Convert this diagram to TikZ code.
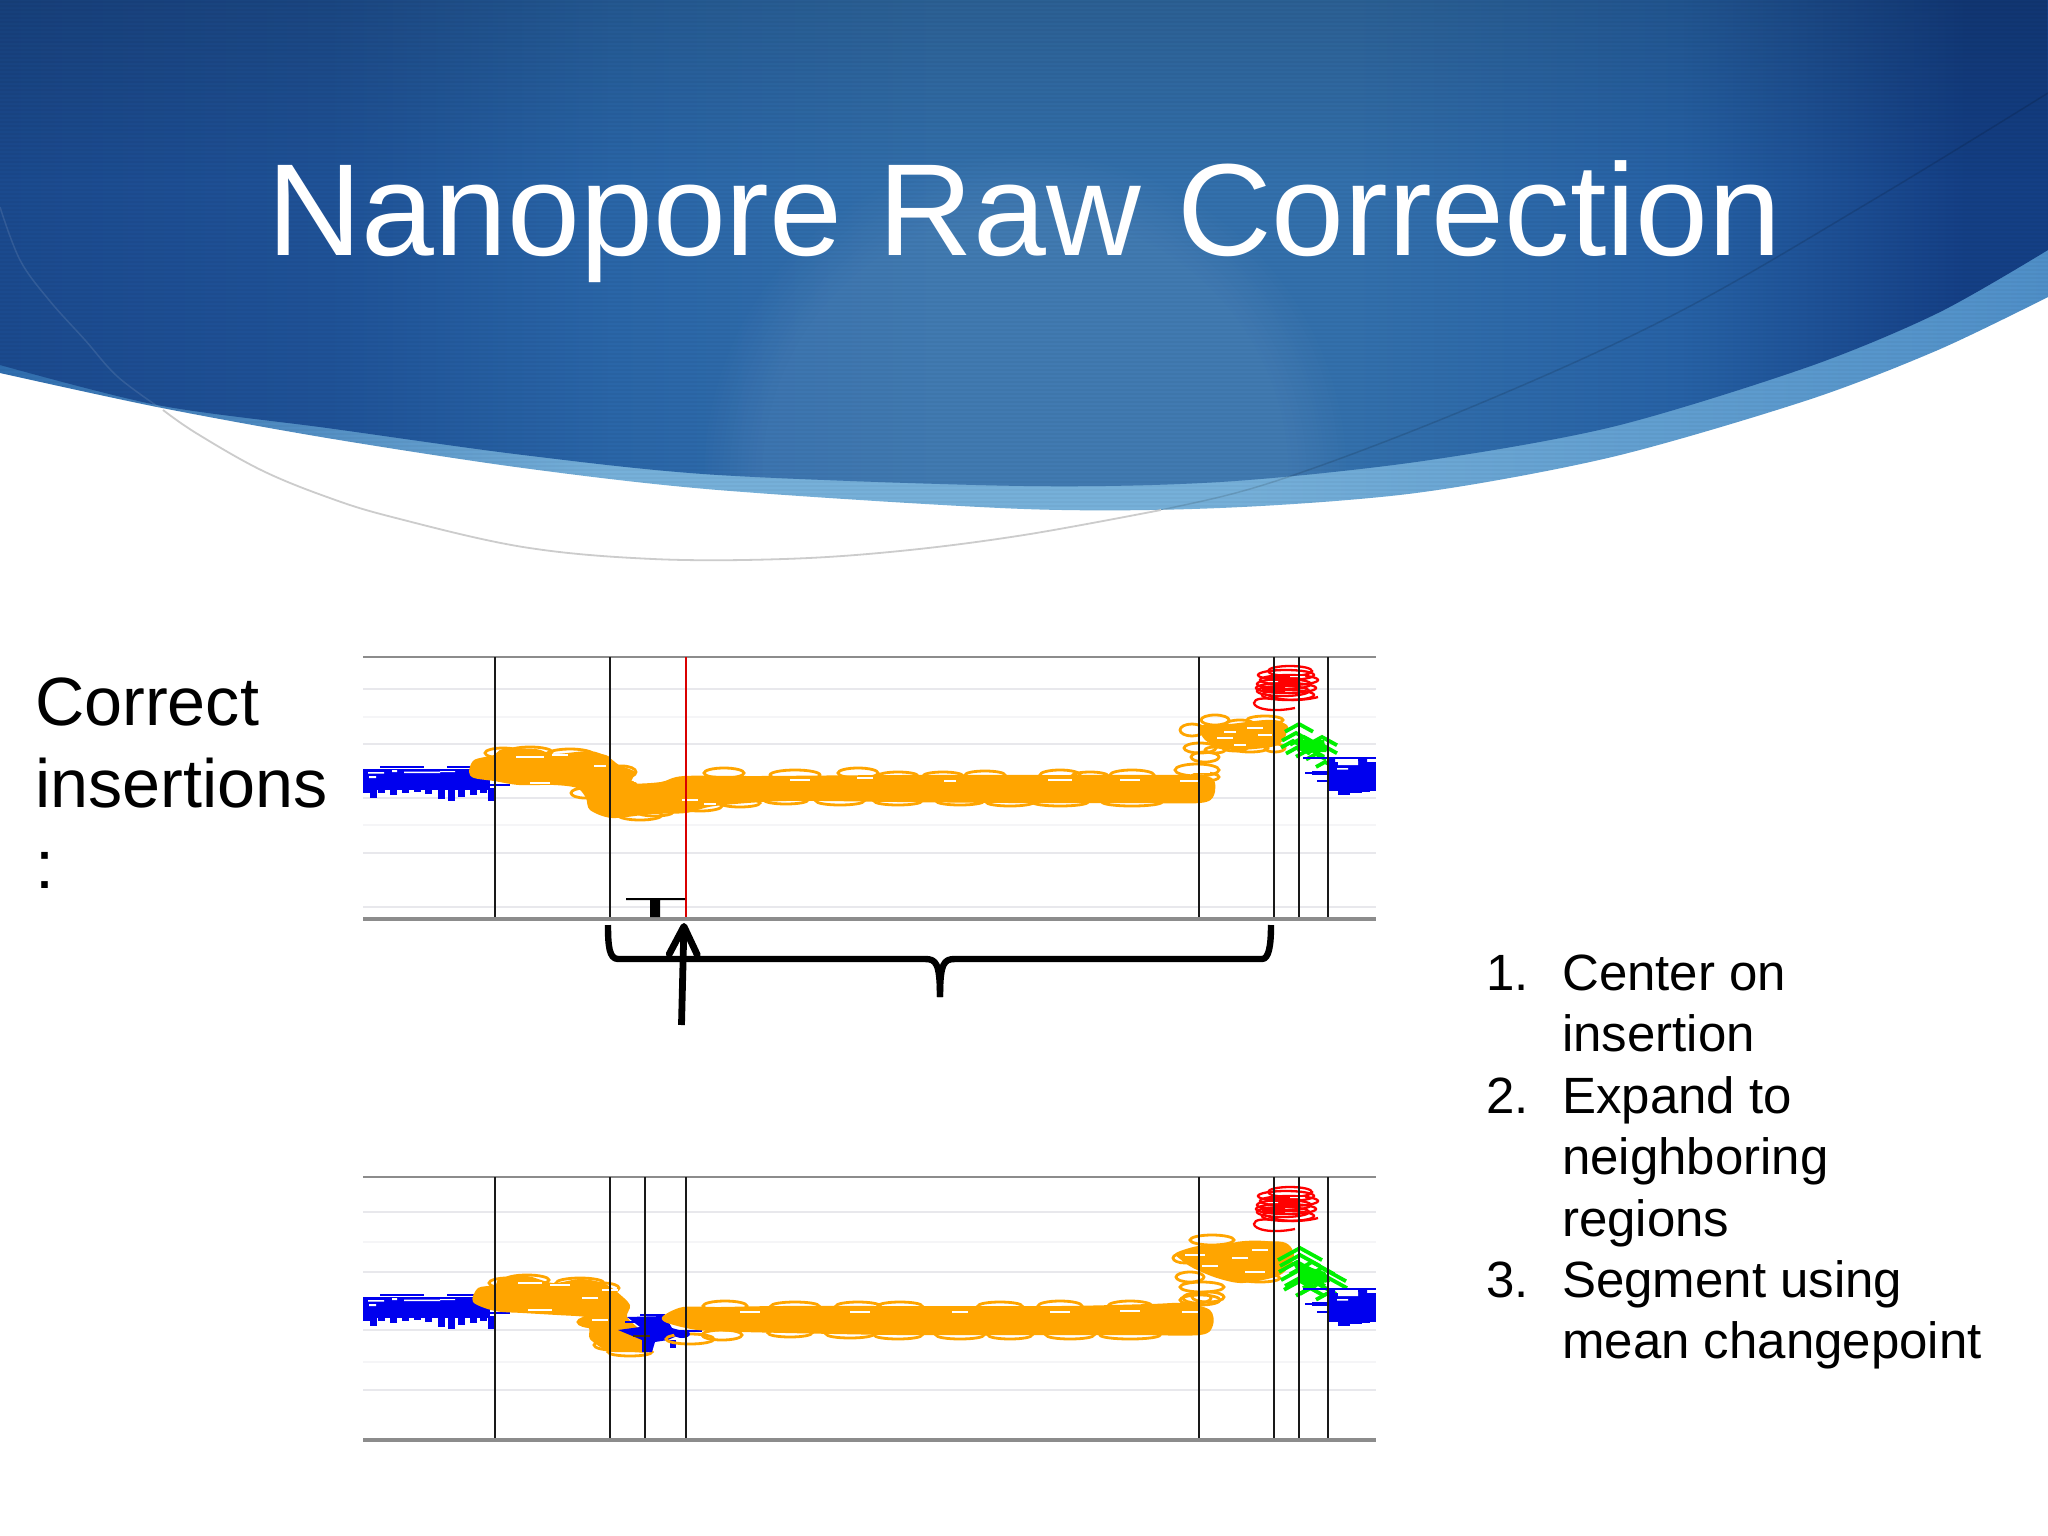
\documentclass[tikz,border=0pt]{standalone}
\usepackage{fontspec}
\setmainfont{Liberation Sans}
\usetikzlibrary{arrows.meta,fadings}
\definecolor{dkA}{HTML}{1B4A8E}
\definecolor{dkA2}{HTML}{1F5297}
\definecolor{dkB}{HTML}{2A66A8}
\definecolor{dkC}{HTML}{3370AC}
\definecolor{dkD}{HTML}{2762A6}
\definecolor{dkE}{HTML}{143F85}
\definecolor{ltA}{HTML}{2F6DAE}
\definecolor{ltB}{HTML}{76B0D9}
\definecolor{ltC}{HTML}{4F8FC8}
\definecolor{sigO}{HTML}{FFA500}
\definecolor{sigB}{HTML}{0000EE}
\definecolor{sigR}{HTML}{FF0000}
\definecolor{sigG}{HTML}{00F000}
\definecolor{axisgrey}{HTML}{8C8C8C}
\definecolor{gridA}{HTML}{E8E8EC}
\definecolor{gridB}{HTML}{F5F5F7}
\pgfdeclarehorizontalshading{darkswoosh}{100bp}{color(0bp)=(dkA);color(25bp)=(dkA);color(33bp)=(dkA2);color(40bp)=(dkB);color(48bp)=(dkC);color(58bp)=(dkC);color(66bp)=(dkD);color(73bp)=(dkE);color(75bp)=(dkE);color(100bp)=(dkE)}
\pgfdeclarehorizontalshading{lightswoosh}{100bp}{color(0bp)=(ltA);color(25bp)=(ltA);color(40bp)=(ltB);color(55bp)=(ltB);color(75bp)=(ltC);color(100bp)=(ltC)}
\newcommand{\darkpath}{plot[smooth] coordinates {(0,365) (157,405) (327,428) (523,455) (718,475) (1024,486) (1220,482) (1416,462) (1612,427) (1808,367) (1938,313) (2048,250)} -- (2048,0) -- (0,0) -- cycle}
\newcommand{\lightpath}{plot[smooth] coordinates {(0,373) (157,407) (327,438) (523,468) (718,490) (1024,509) (1220,508) (1416,493) (1612,457) (1808,400) (1938,350) (2048,297)} -- (2048,0) -- (0,0) -- cycle}
\newcommand{\ringset}[1]{\foreach \cx/\cy/\rx/\ry in {#1}{\draw[ringline] (\cx,\cy) ellipse [x radius=\rx, y radius=\ry];}}
\newcommand{\sliverset}[1]{\foreach \cx/\cy/\rx in {#1}{\draw[sliver] ({\cx-\rx},\cy) -- ({\cx+\rx},\cy);}}
\newcommand{\leftblue}{%
  \fill[sigB] (363,769) rectangle (490,790);
  \foreach \bx/\bb in {363/793,370/798,378/793,390/795,402/793,414/792,425/794,438/799,448/801,458/797,470/795,480/793,488/801}{\fill[sigB] (\bx,788) rectangle ++(7,{\bb-788});}
  \draw[sigB,line width=2.4] (380,767) -- (424,767) (447,767) -- (485,767) (481,785) -- (510,785);
  \fill[white] (368,772) rectangle (384,773.5) (369,776) rectangle (376,778) (392,770) rectangle (397,772) (404,771.5) rectangle (440,773) (440,771) rectangle (455,772);
}
\newcommand{\rightblue}{%
  \fill[sigB] (1327,762) rectangle (1376,790);
  \draw[sigB,line width=2.5] (1303,758) -- (1376,758) (1305,773) -- (1327,773) (1317,781) -- (1327,781);
  \fill[sigB] (1327,758) rectangle (1335,765) (1358,758) rectangle (1367,764);
  \foreach \bx/\ex/\bb in {1327/1338/791,1338/1350/795,1350/1362/793,1362/1370/792,1370/1376/791}{\fill[sigB] (\bx,785) rectangle (\ex,\bb);}
  \fill[sigB] (1312,771) rectangle (1327,775);
  \fill[white] (1338,761) rectangle (1358,765) (1337,768) rectangle (1348,769.5);
}
\newcommand{\redrings}{%
  \foreach \cy/\cx/\rx in {671/1290/22,675/1286/28,680/1289/29,684/1284/27,688/1286/30,691/1283/26,695/1288/26}{\draw[redline] (\cx,\cy) ellipse [x radius=\rx, y radius=5];}
  \fill[sigR] (1268,676) rectangle (1300,685) (1262,686) rectangle (1285,692);
  \fill[white] (1290,676) rectangle (1305,677) (1268,681) rectangle (1278,682);
  \draw[redline] (1318,697) .. controls (1300,702) and (1275,700) .. (1268,695);
  \draw[redline] (1295,708) .. controls (1270,713) and (1254,708) .. (1254,703) .. controls (1254,698) and (1265,698) .. (1272,699);
}
\newcommand{\chev}[3]{\draw[greenline] ({#1-#3},{#2+#3*.55}) -- (#1,#2) -- ({#1+#3},{#2+#3*.55});}
\tikzset{
  ringline/.style={draw=sigO,line width=2.8},
  sliver/.style={draw=white,line width=1.3},
  redline/.style={draw=sigR,line width=2.3},
  greenline/.style={draw=sigG,line width=3.8,line join=miter},
  axisline/.style={draw=axisgrey,line width=2},
  axisbase/.style={draw=axisgrey,line width=3.2},
  gridmajor/.style={draw=gridA,line width=1.4},
  gridminor/.style={draw=gridB,line width=1.4},
  segline/.style={draw=black!90,line width=1.8},
  segred/.style={draw=red!85!black,line width=1.8},
  bracket/.style={draw=black,line width=6.4,line cap=butt,line join=round},
  title/.style={text=white,font=\fontsize{131}{131}\selectfont,inner sep=0pt,anchor=base west},
  lefttext/.style={text=black,font=\fontsize{68.3}{68.3}\selectfont,inner sep=0pt,anchor=base west},
  listtext/.style={text=black,font=\fontsize{51}{51}\selectfont,inner sep=0pt,anchor=base west},
}
\begin{document}
\begin{tikzpicture}[x=1pt,y=-1pt]
\useasboundingbox (0,0) rectangle (2048,1536);
\fill[white] (0,0) rectangle (2048,1536);
% swoosh
\shade[shading=lightswoosh] \lightpath;
\shade[shading=darkswoosh] \darkpath;
\begin{scope}
  \clip \darkpath;
  \fill[white,opacity=.07,path fading=circle with fuzzy edge 20 percent] (700,150) rectangle (1350,800);
  \fill[black,opacity=.14,path fading=south] (0,0) rectangle (2048,180);
\end{scope}
\begin{scope}
  \clip \lightpath;
  \foreach \sy in {2,6,...,510}{\draw[black,opacity=.03,line width=1.4] (0,\sy) -- (2048,\sy);}
  \draw[black,opacity=.13,line width=1.5] plot[smooth,tension=.6] coordinates {(1024,535) (1161,510) (1285,478) (1481,403) (1677,313) (1873,200) (2048,93)};
  \draw[white,opacity=.10,line width=1.5] plot[smooth,tension=.6] coordinates {(0,207) (20,260) (49,300) (85,340) (118,377) (163,410)};
\end{scope}
\draw[black!20,line width=1.8] plot[smooth,tension=.6] coordinates {(163,410) (196,433) (261,470) (327,497) (392,517) (523,547) (653,559) (784,559) (900,551) (1024,535) (1161,510)};
\node[title] (heading) at (267,255) {Nanopore Raw Correction};
% left text
\node[lefttext] (lineA) at (35,725) {Correct};
\node[lefttext] (lineB) at (35,807) {insertions};
\node[lefttext] (lineC) at (35,888) {:};
% list
\node[listtext] (numA) at (1486,990) {1.};
\node[listtext] (itemA) at (1562,990) {Center on};
\node[listtext] (itemAb) at (1562,1051.5) {insertion};
\node[listtext] (numB) at (1486,1113) {2.};
\node[listtext] (itemB) at (1562,1113) {Expand to};
\node[listtext] (itemBb) at (1562,1174.5) {neighboring};
\node[listtext] (itemBc) at (1562,1236) {regions};
\node[listtext] (numC) at (1486,1297) {3.};
\node[listtext] (itemC) at (1562,1297) {Segment using};
\node[listtext] (itemCb) at (1562,1358.5) {mean changepoint};
% ---------- plot 1 ----------
\foreach \gy in {689,744,798,853,907}{\draw[gridmajor] (363,\gy) -- (1376,\gy);}
\foreach \gy in {717,825}{\draw[gridminor] (363,\gy) -- (1376,\gy);}
\leftblue
\ringset{503/753/18/5,530/752/22/5,570/755/24/6,595/760/15/5,622/772/14/6,615/786/22/6,585/793/14/5,640/815/22/5,655/812/18/4,700/806/22/5,724/773/20/5,795/775/25/5,858/773/20/5,898/776/20/4,943/776/20/4,985/775/20/4,786/800/22/4,740/803/20/4,840/801/24/4,898/801/24/4,960/801/24/4,1010/802/24/4,1060/775/20/5,1090/776/18/4,1132/775/22/5,1060/802/28/4,1132/802/30/4,1197/770/22/6,1205/777/14/4,1215/720/14/5,1192/730/12/6,1200/748/16/5,1205/757/14/5,1265/720/18/4,1240/724/14/4,1225/730/14/5,1250/748/18/4,1275/748/10/4,1215/750/10/3,1275/728/12/5,1235/748/12/3}
\fill[sigO] plot[smooth cycle] coordinates {(469,772) (474,760) (494,755) (503,749) (536,749) (554,754) (590,751) (608,757) (619,765) (635,772) (632,783) (661,782) (684,776) (760,776) (900,775) (1060,775) (1180,775) (1212,778) (1214,795) (1200,803) (1132,803) (1010,803) (898,802) (786,801) (715,806) (686,813) (652,814) (612,818) (590,810) (586,798) (577,788) (554,785) (519,785) (494,781) (474,778)};
\fill[sigO] plot[smooth cycle] coordinates {(1200,726) (1230,724) (1265,720) (1282,722) (1286,735) (1275,746) (1240,750) (1222,748) (1205,740)};
\sliverset{530/757/14,560/755/8,600/766/6,540/783/10,640/781/6,690/800/8,710/804/6,800/780/10,865/778/8,950/781/6,1060/780/12,1130/780/10,1190/781/10,1200/772/10,1230/732/6,1255/728/8,1225/738/8,1265/735/7,1240/745/6}
\redrings
\foreach \gx/\gy/\gw in {1299/724/14,1296/733/14,1304/737/14,1293/741/12,1322/737/15,1312/742/15,1322/745/15,1298/747/12,1310/749/14,1316/754/10,1325/762/9}{\chev{\gx}{\gy}{\gw}}
\fill[sigG] (1298,740) -- (1324,740) -- (1326,752) -- (1304,752) -- cycle;
\rightblue
\draw[axisline] (363,657) -- (1376,657);
\coordinate (segA) at (495,657); \coordinate (segAb) at (495,919);
\coordinate (segB) at (610,657); \coordinate (segBb) at (610,919);
\coordinate (segC) at (686,657); \coordinate (segCb) at (686,919);
\coordinate (segD) at (1199,657); \coordinate (segDb) at (1199,919);
\coordinate (segE) at (1274,657); \coordinate (segEb) at (1274,919);
\coordinate (segF) at (1299,657); \coordinate (segFb) at (1299,919);
\coordinate (segG) at (1328,657); \coordinate (segGb) at (1328,919);
\draw[segline] (segA) -- (segAb);
\draw[segline] (segB) -- (segBb);
\draw[segred] (segC) -- (segCb);
\draw[segline] (segD) -- (segDb);
\draw[segline] (segE) -- (segEb);
\draw[segline] (segF) -- (segFb);
\draw[segline] (segG) -- (segGb);
\draw[axisbase] (363,919) -- (1376,919);
% insertion mark
\fill[black] (626,898) rectangle (685,900) (650,899) rectangle (660,917);
% bracket
\coordinate (braceL) at (608,925);
\coordinate (braceM) at (940,997);
\coordinate (braceR) at (1271,925);
\draw[bracket] (braceL) .. controls (608,945) and (609,959) .. (618,959) -- (925,959) .. controls (936,959) and (940,963) .. (braceM);
\draw[bracket] (braceM) .. controls (940,963) and (944,959) .. (955,959) -- (1262,959) .. controls (1269,959) and (1271,945) .. (braceR);
% arrow
\coordinate (arrowfoot) at (681.5,1025);
\coordinate (arrowtip) at (684,923);
\draw[line width=6.8,-{Straight Barb[length=28pt,width=28pt,round]}] (arrowfoot) -- (arrowtip);
% ---------- plot 2 ----------
\foreach \gy in {1212,1272,1330,1390}{\draw[gridmajor] (363,\gy) -- (1376,\gy);}
\foreach \gy in {1242,1362}{\draw[gridminor] (363,\gy) -- (1376,\gy);}
\begin{scope}[shift={(0,528)}]
  \leftblue
\end{scope}
\ringset{507/1283/18/5,527/1280/22/5,580/1283/24/5,603/1288/16/5,595/1322/17/5,630/1352/22/4,612/1345/18/5,725/1306/22/5,795/1306/24/4,858/1306/22/4,900/1306/22/4,1000/1306/22/4,1060/1306/22/5,1130/1306/22/5,1200/1300/20/5,1190/1315/18/4,722/1335/20/5,790/1333/22/4,850/1334/24/4,898/1335/24/4,960/1335/24/4,1010/1335/22/4,1070/1335/24/4,1130/1335/30/4,1212/1240/22/5,1190/1277/14/5,1202/1287/22/5,1197/1298/14/5,1208/1297/16/5,1185/1258/12/5,1255/1246/24/4,1260/1278/20/4}
\fill[sigO] plot[smooth cycle] coordinates {(473,1302) (478,1288) (495,1285) (500,1278) (527,1276) (553,1283) (580,1279) (603,1283) (617,1292) (630,1305) (627,1317) (640,1330) (647,1342) (650,1352) (630,1352) (608,1351) (590,1339) (589,1328) (577,1322) (585,1317) (557,1315) (523,1313) (495,1311)};
\fill[sigB] plot coordinates {(627,1317) (665,1316) (672,1328) (686,1332) (668,1340) (655,1342) (652,1352) (642,1352) (642,1340) (618,1330) (640,1327)} -- cycle;
\fill[sigB] (670,1340) rectangle (676,1348);
\draw[sigB,line width=2] (625,1322) -- (650,1322) (640,1315) -- (665,1315) (686,1331) -- (702,1331);
\draw[black!70!sigO,line width=2] (633,1336) -- (650,1336);
\draw[ringline] (690,1339) ellipse [x radius=24,y radius=5];
\fill[sigO] plot[smooth cycle] coordinates {(663,1316) (683,1307) (720,1307) (780,1306) (900,1306) (1060,1306) (1150,1304) (1185,1303) (1210,1310) (1213,1325) (1200,1335) (1130,1335) (1010,1335) (898,1335) (786,1333) (710,1331) (686,1328) (665,1322)};
\fill[sigB] (682,1334) ellipse [x radius=8,y radius=4];
\fill[sigO] plot[smooth cycle] coordinates {(1176,1253) (1198,1246) (1233,1243) (1283,1242) (1294,1257) (1280,1275) (1243,1283) (1217,1278) (1193,1268) (1180,1259)};
\sliverset{530/1283/12,560/1285/10,610/1290/8,540/1310/12,590/1298/8,600/1320/8,750/1312/10,860/1312/10,960/1312/8,1060/1312/10,1130/1311/10,1190/1312/8,1195/1255/10,1240/1258/8,1260/1250/8,1210/1266/8,1255/1272/10}
\begin{scope}[shift={(0,521)}]
  \redrings
\end{scope}
\foreach \gx/\gy/\gw in {1300/1248/22,1300/1255/20,1297/1262/18,1312/1262/22,1303/1268/22,1322/1268/24,1305/1275/20,1325/1276/22,1300/1281/16,1318/1284/18,1310/1288/14,1330/1292/14}{\chev{\gx}{\gy}{\gw}}
\fill[sigG] (1292,1262) -- (1325,1272) -- (1330,1282) -- (1305,1285) -- cycle;
\begin{scope}[shift={(0,531)}]
  \rightblue
\end{scope}
\draw[axisline] (363,1177) -- (1376,1177);
\foreach \sx/\sn in {495/a,610/b,645/c,686/d,1199/e,1274/f,1299/g,1328/h}{\draw[segline] (\sx,1177) -- (\sx,1439);}
\draw[axisbase] (363,1440) -- (1376,1440);
\end{tikzpicture}
\end{document}
